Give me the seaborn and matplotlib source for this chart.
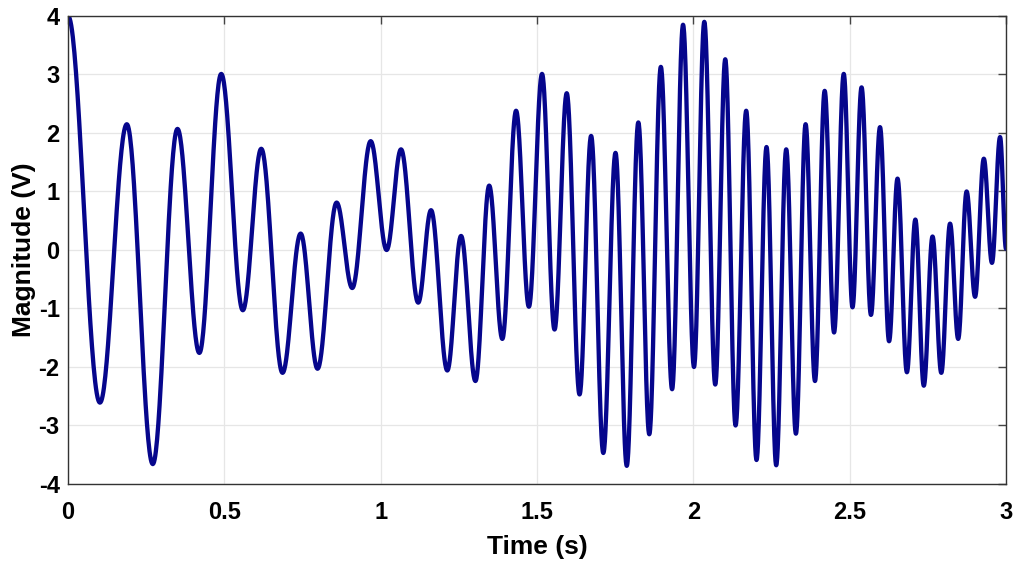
"""
Time-domain signal plot: magnitude (V) vs time (s), MATLAB-like styling.
Extrema of the waveform are read off the reference picture; the line is
drawn through them with half-cosine arcs (the natural sinusoid shape).
"""

import matplotlib
matplotlib.use("Agg")
import matplotlib.pyplot as plt
import numpy as np
import pandas as pd
import seaborn as sns


# Successive peaks/troughs of the waveform (time in s, value in V)
EXT_TIME = [
    0.000, 0.102, 0.188, 0.271, 0.350, 0.420, 0.490, 0.559, 0.618, 0.686,
    0.744, 0.798, 0.859, 0.909, 0.968, 1.019, 1.065, 1.120, 1.161, 1.213,
    1.257, 1.303, 1.347, 1.389, 1.433, 1.474, 1.516, 1.556, 1.595, 1.636,
    1.673, 1.712, 1.751, 1.787, 1.824, 1.859, 1.896, 1.932, 1.967, 2.002,
    2.035, 2.070, 2.102, 2.135, 2.169, 2.202, 2.234, 2.265, 2.297, 2.328,
    2.359, 2.389, 2.420, 2.450, 2.481, 2.509, 2.538, 2.568, 2.597, 2.626,
    2.653, 2.683, 2.710, 2.737, 2.765, 2.793, 2.821, 2.847, 2.874, 2.901,
    2.929, 2.955, 2.981, 3.000,
]
EXT_VALUE = [
    4.00, -2.61, 2.15, -3.66, 2.07, -1.76, 3.01, -1.03, 1.73, -2.10,
    0.28, -2.03, 0.81, -0.65, 1.86, 0.00, 1.72, -0.90, 0.68, -2.06,
    0.24, -2.24, 1.10, -1.52, 2.38, -0.97, 3.01, -1.36, 2.68, -2.47,
    1.95, -3.47, 1.66, -3.69, 2.18, -3.15, 3.13, -2.38, 3.85, -2.00,
    3.90, -2.30, 3.26, -3.00, 2.38, -3.59, 1.76, -3.68, 1.72, -3.14,
    2.15, -2.24, 2.72, -1.41, 3.01, -0.98, 2.78, -1.11, 2.10, -1.56,
    1.22, -2.09, 0.52, -2.32, 0.23, -2.10, 0.45, -1.52, 1.00, -0.80,
    1.56, -0.22, 1.93, 0.02,
]

X_TICKS = [0, 0.5, 1, 1.5, 2, 2.5, 3]
X_TICK_LABELS = ["0", "0.5", "1", "1.5", "2", "2.5", "3"]
Y_TICKS = [-4, -3, -2, -1, 0, 1, 2, 3, 4]
Y_TICK_LABELS = ["-4", "-3", "-2", "-1", "0", "1", "2", "3", "4"]


def trace_through_extrema(ts, vs, n=40):
    """Join consecutive extrema with half-cosine arcs."""
    t_out, v_out = [], []
    for (t0, v0), (t1, v1) in zip(zip(ts[:-1], vs[:-1]), zip(ts[1:], vs[1:])):
        s = np.linspace(0, 1, n, endpoint=False)
        t_out.append(t0 + (t1 - t0) * s)
        v_out.append(v0 + (v1 - v0) * (1 - np.cos(np.pi * s)) / 2)
    t_out.append([ts[-1]])
    v_out.append([vs[-1]])
    return np.concatenate(t_out), np.concatenate(v_out)


t, v = trace_through_extrema(EXT_TIME, EXT_VALUE)
df = pd.DataFrame({"Time (s)": t, "Magnitude (V)": v})

sns.set_style("whitegrid")
plt.rcParams["font.family"] = ["Liberation Sans", "DejaVu Sans"]
plt.rcParams["axes.unicode_minus"] = False
plt.rcParams["text.color"] = "black"
plt.rcParams["axes.labelcolor"] = "black"
plt.rcParams["xtick.color"] = "black"
plt.rcParams["ytick.color"] = "black"

fig = plt.figure(figsize=(10.17, 5.61), dpi=100)
ax = fig.add_axes([0.0669, 0.1373, 0.9223, 0.8342])

sns.lineplot(data=df, x="Time (s)", y="Magnitude (V)", ax=ax,
             color="#06068c", linewidth=3.1, sort=False)

ax.set_xlim(0, 3)
ax.set_ylim(-4, 4)
ax.set_xticks(X_TICKS)
ax.set_xticklabels(X_TICK_LABELS)
ax.set_yticks(Y_TICKS)
ax.set_yticklabels(Y_TICK_LABELS)

ax.grid(True, color="#e6e6e6", linewidth=0.9)
for side in ["left", "right", "top", "bottom"]:
    ax.spines[side].set_visible(True)
    ax.spines[side].set_color("#333333")
    ax.spines[side].set_linewidth(1.0)

ax.tick_params(direction="in", length=6, width=1.0, color="#444444",
               labelcolor="black", top=True, right=True, labelsize=17)
ax.tick_params(axis="x", pad=12)
ax.tick_params(axis="y", pad=6)
for lab in ax.get_xticklabels() + ax.get_yticklabels():
    lab.set_fontweight("bold")

ax.set_xlabel("Time (s)", fontsize=19, fontweight="bold", labelpad=8)
ax.set_ylabel("Magnitude (V)", fontsize=19, fontweight="bold", labelpad=2)

fig.savefig("out.png", dpi=100)
plt.close(fig)
